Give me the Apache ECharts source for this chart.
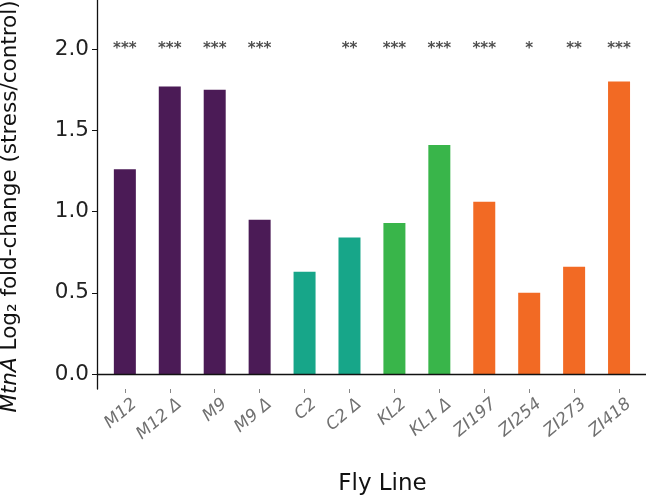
<!DOCTYPE html>
<html><head><meta charset="utf-8">
<script src="https://cdn.jsdelivr.net/npm/echarts@6/dist/echarts.min.js"></script>
<style>html,body{margin:0;padding:0;background:#fff}#c{width:656px;height:499px}</style>
</head><body><div id="c"></div>
<script>
const categories = ["M12","M12 \u0394","M9","M9 \u0394","C2","C2 \u0394","KL2","KL1 \u0394","ZI197","ZI254","ZI273","ZI418"];
const foldChange = [1.26,1.77,1.75,0.95,0.63,0.84,0.93,1.41,1.06,0.50,0.66,1.80];
const groups = ["M","M","M","M","C","C","KL","KL","ZI","ZI","ZI","ZI"];
const significance = ["***","***","***","***","","**","***","***","***","*","**","***"];
const yTicks = [0,0.5,1.0,1.5,2.0];
const groupColors = {M:"#4b1b56", C:"#17a689", KL:"#39b54a", ZI:"#f26a24"};

const idx = categories.map((c,i)=>i);
const labelShift = 0.22;
const chart = echarts.init(document.getElementById('c'), null, {renderer:'canvas'});
const font = "DejaVu Sans";
chart.setOption({
  animation:false,
  grid:{left:97,right:10,top:0,bottom:110,containLabel:false,outerBoundsMode:'none'},
  xAxis:{
    type:'value', min:-0.62, max:11.6,
    splitLine:{show:false},
    axisLine:{show:false,onZero:false},
    axisTick:{show:true,length:4,lineStyle:{color:'#888',width:1},customValues:idx},
    axisLabel:{rotate:40,fontStyle:'italic',fontFamily:font,fontSize:17,color:'#707070',margin:13,
      customValues:idx.map(i=>i+labelShift),
      formatter:v=>categories[Math.round(v-labelShift)]},
    name:'Fly Line', nameLocation:'middle', nameGap:84,
    nameTextStyle:{fontFamily:font,fontSize:23,color:'#111',padding:[0,0,0,22]}
  },
  yAxis:{
    type:'value', min:-0.0926, max:2.3025,
    splitLine:{show:false},
    axisLine:{show:true,onZero:false,lineStyle:{color:'#111',width:1.3}},
    axisTick:{show:true,length:5,lineStyle:{color:'#111'},customValues:yTicks},
    axisLabel:{fontFamily:font,fontSize:21.5,color:'#222',margin:8,customValues:yTicks,
      formatter:v=>v.toFixed(1)},
    name:'{i|MtnA} Log\u2082 fold-change (stress/control)',
    nameLocation:'middle', nameGap:76, nameRotate:90,
    nameTextStyle:{fontFamily:font,fontSize:21.5,color:'#111',padding:[0,24,0,0],
      rich:{i:{fontStyle:'italic',fontFamily:font,fontSize:21.5,color:'#111'}}}
  },
  series:[
    {type:'bar', barWidth:22,
     data:foldChange.map((v,i)=>({value:[i,v],itemStyle:{color:groupColors[groups[i]]}})),
     markLine:{silent:true,symbol:['none','none'],label:{show:false},
       lineStyle:{color:'#111',type:'solid',width:1.3},data:[{yAxis:0}]}
    },
    {type:'scatter', symbolSize:1, itemStyle:{color:'rgba(0,0,0,0)'},
     data:significance.map((s,i)=>[i,2.0]),
     label:{show:true,position:'inside',fontFamily:font,fontSize:15,fontWeight:'bold',color:'#222',
       formatter:p=>significance[p.dataIndex]}
    }
  ]
});
</script></body></html>
